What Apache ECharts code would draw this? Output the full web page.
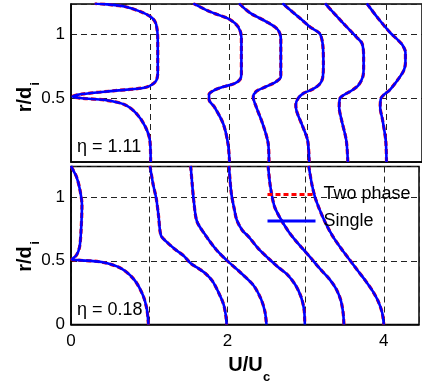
<!DOCTYPE html>
<html>
<head>
<meta charset="utf-8">
<script src="https://cdn.jsdelivr.net/npm/echarts@6/dist/echarts.min.js"></script>
<style>
html, body { margin: 0; padding: 0; background: #fff; }
#chart { width: 422px; height: 384px; }
</style>
</head>
<body>
<div id="chart"></div>
<script>
// 速度剖面: 上 η = 1.11, 下 η = 0.18 ; 每条曲线 [U/Uc, r/di]
var xLabels = ['0', '2', '4'];
var topYLabels = ['0.5', '1'];
var botYLabels = ['0', '0.5', '1'];

var top1 = [[1.01,0],[1.0,0.17],[0.94,0.28],[0.83,0.38],[0.68,0.45],[0.43,0.486],[0.14,0.5],[0.02,0.513],[0.14,0.533],[0.56,0.56],[0.94,0.585],[1.07,0.63],[1.1,0.7],[1.1,0.96],[1.08,1.08],[1.03,1.13],[0.92,1.17],[0.68,1.22],[0.3,1.245]];
var top2 = [[2.01,0],[1.99,0.145],[1.93,0.3],[1.82,0.43],[1.75,0.49],[1.75,0.53],[1.82,0.565],[1.93,0.59],[2.07,0.615],[2.14,0.645],[2.16,0.69],[2.16,0.98],[2.12,1.06],[2.01,1.12],[1.76,1.18],[1.55,1.245]];
var top3 = [[2.51,0],[2.5,0.145],[2.43,0.3],[2.35,0.43],[2.31,0.51],[2.35,0.555],[2.43,0.58],[2.52,0.605],[2.6,0.63],[2.66,0.67],[2.66,0.97],[2.62,1.04],[2.48,1.1],[2.27,1.17],[2.13,1.245]];
var top4 = [[3.02,0],[3.0,0.17],[2.93,0.29],[2.86,0.4],[2.85,0.45],[2.88,0.5],[2.95,0.54],[3.06,0.57],[3.15,0.61],[3.19,0.66],[3.2,0.77],[3.19,0.93],[3.15,1.01],[3.03,1.06],[2.9,1.13],[2.68,1.245]];
var top5 = [[3.51,0],[3.49,0.17],[3.43,0.33],[3.4,0.43],[3.41,0.5],[3.47,0.53],[3.53,0.55],[3.64,0.6],[3.7,0.67],[3.71,0.75],[3.71,0.83],[3.69,0.93],[3.62,0.98],[3.45,1.09],[3.22,1.245]];
var top6 = [[4.0,0],[3.99,0.17],[3.95,0.33],[3.92,0.43],[3.93,0.5],[3.97,0.53],[4.04,0.565],[4.16,0.66],[4.22,0.72],[4.24,0.78],[4.24,0.86],[4.2,0.92],[4.14,0.96],[4.04,1.02],[3.89,1.13],[3.75,1.245]];

var bot1 = [[0.99,0],[0.97,0.12],[0.92,0.23],[0.81,0.35],[0.64,0.44],[0.39,0.49],[0.09,0.505],[0.01,0.51],[0.07,0.545],[0.11,0.61],[0.13,0.755],[0.14,0.94],[0.11,1.07],[0.07,1.16],[0.02,1.22],[0.0,1.245]];
var bot2 = [[1.01,1.245],[1.05,1.1],[1.09,0.99],[1.12,0.85],[1.15,0.7],[1.22,0.65],[1.33,0.59],[1.44,0.54],[1.53,0.48],[1.63,0.44],[1.72,0.4],[1.81,0.34],[1.88,0.26],[1.95,0.16],[1.98,0.07],[1.99,0]];
var bot3 = [[1.53,1.245],[1.55,1.1],[1.57,0.97],[1.61,0.81],[1.72,0.7],[1.86,0.585],[1.99,0.505],[2.18,0.4],[2.33,0.31],[2.43,0.2],[2.48,0.1],[2.5,0]];
var bot4 = [[2.02,1.245],[2.05,1.03],[2.09,0.9],[2.12,0.82],[2.19,0.74],[2.27,0.69],[2.39,0.6],[2.54,0.51],[2.65,0.45],[2.77,0.39],[2.87,0.31],[2.94,0.22],[2.98,0.12],[2.99,0]];
var bot5 = [[2.52,1.245],[2.55,1.08],[2.6,0.93],[2.67,0.84],[2.77,0.74],[2.87,0.66],[2.97,0.59],[3.07,0.52],[3.18,0.44],[3.3,0.36],[3.39,0.28],[3.45,0.19],[3.48,0.09],[3.49,0]];
var bot6 = [[3.04,1.245],[3.08,1.1],[3.12,1.0],[3.18,0.9],[3.26,0.79],[3.35,0.69],[3.45,0.6],[3.56,0.51],[3.67,0.42],[3.77,0.34],[3.86,0.26],[3.93,0.18],[3.98,0.09],[4.0,0]];

var FONT = '"Liberation Sans", Arial, sans-serif';
var chart = echarts.init(document.getElementById('chart'));

function pick(labels) {
  return function (v) {
    var s = String(v);
    return labels.indexOf(s) >= 0 ? s : '';
  };
}

function xAxis(idx, labels) {
  return {
    type: 'value', gridIndex: idx, min: 0, max: 4.45, interval: 1,
    axisLine: { show: true, onZero: false, lineStyle: { color: '#000', width: 1.5 } },
    axisTick: { show: false },
    axisLabel: { show: labels.length > 0, margin: 8, fontSize: 17, color: '#000', fontFamily: FONT, formatter: pick(labels) },
    splitLine: { show: true, lineStyle: { color: '#222', width: 1, type: [6, 4] } }
  };
}

function yAxis(idx, labels) {
  return {
    type: 'value', gridIndex: idx, min: 0, max: 1.24, interval: 0.5,
    axisLine: { show: true, lineStyle: { color: '#000', width: 1.5 } },
    axisTick: { show: false },
    axisLabel: { margin: 6, fontSize: 17, color: '#000', fontFamily: FONT, formatter: pick(labels) },
    splitLine: { show: true, lineStyle: { color: '#222', width: 1, type: [6, 4] } }
  };
}

var series = [];
function addCurves(list, idx) {
  list.forEach(function (d) {
    series.push({
      name: 'Two phase', type: 'line', xAxisIndex: idx, yAxisIndex: idx, data: d,
      symbol: 'none', smooth: 0.3, z: 2, silent: true,
      lineStyle: { color: '#ff0000', width: 3.2, type: [5, 3] }, itemStyle: { color: '#ff0000' }
    });
    series.push({
      name: 'Single', type: 'line', xAxisIndex: idx, yAxisIndex: idx, data: d,
      symbol: 'none', smooth: 0.3, z: 3, silent: true,
      lineStyle: { color: '#0000ff', width: 2.6 }, itemStyle: { color: '#0000ff' }
    });
  });
}
addCurves([top1, top2, top3, top4, top5, top6], 0);
addCurves([bot1, bot2, bot3, bot4, bot5, bot6], 1);

function txt(x, y, text, size, bold, rot) {
  return {
    type: 'text', x: x, y: y, rotation: rot || 0, z: 10,
    style: { text: text, fontSize: size, fontWeight: bold ? 'bold' : 'normal', fontFamily: FONT, fill: '#000', align: 'center', verticalAlign: 'middle' }
  };
}

chart.setOption({
  animation: false,
  grid: [
    { left: 71, top: 4, width: 352, height: 158, show: true, borderColor: '#000', borderWidth: 1.5 },
    { left: 71, top: 166.5, width: 352, height: 158, show: true, borderColor: '#000', borderWidth: 1.5 }
  ],
  xAxis: [xAxis(0, []), xAxis(1, xLabels)],
  yAxis: [yAxis(0, topYLabels), yAxis(1, botYLabels)],
  legend: {
    data: ['Two phase', 'Single'], orient: 'vertical', left: 261, top: 180.5,
    itemWidth: 48, itemHeight: 14, itemGap: 8.5, selectedMode: false,
    itemStyle: { opacity: 0, borderWidth: 0 },
    lineStyle: { width: 3 },
    textStyle: { fontSize: 18, color: '#000', fontFamily: FONT, padding: [0, 0, 0, 3] }
  },
  graphic: [
    { type: 'text', x: 77, y: 147.5, z: 10, style: { text: 'η = 1.11', fontSize: 18, fontFamily: FONT, fill: '#000', verticalAlign: 'middle' } },
    { type: 'text', x: 77, y: 310, z: 10, style: { text: 'η = 0.18', fontSize: 18, fontFamily: FONT, fill: '#000', verticalAlign: 'middle' } },
    txt(25, 99.5, 'r/d', 20, true, Math.PI / 2),
    txt(35, 84, 'i', 13, true, Math.PI / 2),
    txt(25, 259, 'r/d', 20, true, Math.PI / 2),
    txt(35, 243, 'i', 13, true, Math.PI / 2),
    txt(245.5, 365, 'U/U', 20, true),
    txt(266.5, 377, 'c', 13, true)
  ],
  series: series
});
window.addEventListener('resize', function () { chart.resize(); });
</script>
</body>
</html>
